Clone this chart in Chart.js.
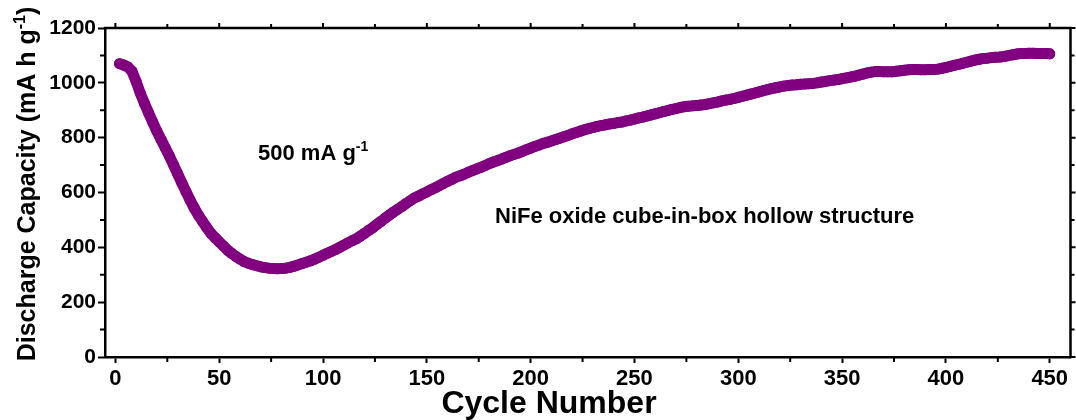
<!DOCTYPE html>
<html>
<head>
<meta charset="utf-8">
<script src="https://cdn.jsdelivr.net/npm/chart.js@4.4.1/dist/chart.umd.min.js"></script>
<style>
  html, body { margin: 0; padding: 0; background: #fff; }
  #wrap { width: 1076px; height: 420px; position: relative; }
</style>
</head>
<body>
<div id="wrap"><canvas id="myChart"></canvas></div>
<script>
// discharge capacity, one value every second cycle starting at cycle 2
var firstCycle = 2;
var cycleStep = 2;
var capacity = [
  1070, 1065, 1058, 1042, 1005, 962, 925, 890, 856, 823,
  793, 763, 733, 701, 668, 635, 603, 572, 543, 517,
  494, 472, 451, 435, 420, 405, 390, 378, 367, 357,
  348, 342, 337, 333, 329, 326, 324, 323, 322, 323,
  324, 327, 331, 336, 341, 346, 351, 357, 364, 371,
  378, 385, 392, 400, 408, 416, 424, 431, 441, 451,
  462, 472, 484, 495, 507, 518, 529, 539, 549, 560,
  570, 580, 587, 595, 602, 610, 617, 625, 633, 641,
  648, 656, 661, 667, 674, 680, 686, 692, 698, 705,
  711, 716, 722, 728, 734, 739, 744, 750, 756, 762,
  768, 773, 779, 783, 788, 793, 798, 803, 808, 814,
  819, 824, 829, 833, 837, 841, 844, 847, 850, 852,
  855, 857, 861, 864, 868, 872, 875, 879, 883, 887,
  891, 895, 899, 903, 906, 910, 913, 915, 916, 917,
  919, 921, 924, 927, 930, 934, 937, 940, 943, 947,
  951, 955, 959, 963, 967, 971, 975, 979, 982, 985,
  988, 990, 992, 993, 995, 996, 997, 998, 1000, 1003,
  1005, 1008, 1010, 1012, 1015, 1018, 1021, 1024, 1028, 1032,
  1036, 1039, 1041, 1041, 1040, 1040, 1040, 1042, 1044, 1046,
  1048, 1049, 1049, 1048, 1048, 1049, 1049, 1050, 1053, 1056,
  1060, 1064, 1067, 1071, 1075, 1079, 1083, 1086, 1089, 1090,
  1092, 1093, 1094, 1096, 1099, 1102, 1105, 1107, 1107, 1108,
  1108, 1107, 1107, 1107, 1106
];

var xRange = [-5, 460];
var yRange = [0, 1200];
var xMajor = 50, xMinor = 25;
var yMajor = 200, yMinor = 100;

var FONT = "'Liberation Sans', Arial, Helvetica, sans-serif";
var INK = '#000';
var PURPLE = '#800080';

var points = capacity.map(function (v, i) {
  return { x: firstCycle + i * cycleStep, y: v };
});

// text drawn with a raised "-1" unit exponent
function drawParts(ctx, parts, x, y, align) {
  var total = 0;
  parts.forEach(function (p) {
    ctx.font = 'bold ' + p.size + 'px ' + FONT;
    p.w = ctx.measureText(p.t).width;
    total += p.w;
  });
  var cx = align === 'center' ? x - total / 2 : x;
  parts.forEach(function (p) {
    ctx.font = 'bold ' + p.size + 'px ' + FONT;
    ctx.fillText(p.t, cx, y - (p.rise || 0));
    cx += p.w;
  });
}

var framePlugin = {
  id: 'frame',
  afterDraw: function (chart) {
    var ctx = chart.ctx;
    var a = chart.chartArea;
    var xs = chart.scales.x;
    var ys = chart.scales.y;
    var v, p, len;

    ctx.save();
    ctx.strokeStyle = INK;
    ctx.lineWidth = 2.5;
    ctx.beginPath();
    ctx.moveTo(a.left - 1.25, a.top);
    ctx.lineTo(a.right, a.top);
    ctx.lineTo(a.right, a.bottom + 1.25);
    ctx.stroke();

    ctx.lineWidth = 2;
    ctx.beginPath();
    for (v = 0; v <= 450; v += xMinor) {
      p = xs.getPixelForValue(v);
      len = v % xMajor === 0 ? 5 : 4;
      if (v % xMajor !== 0) {
        ctx.moveTo(p, a.bottom);
        ctx.lineTo(p, a.bottom + 5);
      }
      ctx.moveTo(p, a.top);
      ctx.lineTo(p, a.top - len);
    }
    for (v = yRange[0]; v <= yRange[1]; v += yMinor) {
      p = ys.getPixelForValue(v);
      len = v % yMajor === 0 ? 5 : 4;
      if (v % yMajor !== 0) {
        ctx.moveTo(a.left, p);
        ctx.lineTo(a.left - 5, p);
      }
      ctx.moveTo(a.right, p);
      ctx.lineTo(a.right + len, p);
    }
    ctx.stroke();

    ctx.fillStyle = INK;
    ctx.textBaseline = 'alphabetic';
    ctx.textAlign = 'left';

    // x axis title
    drawParts(ctx, [{ t: 'Cycle Number', size: 32 }], 549, 413, 'center');

    // y axis title, rotated
    ctx.save();
    ctx.translate(35, 184);
    ctx.rotate(-Math.PI / 2);
    drawParts(ctx, [
      { t: 'Discharge Capacity (mA h g', size: 25 },
      { t: '-1', size: 16, rise: 10 },
      { t: ')', size: 25 }
    ], 0, 0, 'center');
    ctx.restore();

    // labels inside the plot
    drawParts(ctx, [
      { t: '500 mA g', size: 22 },
      { t: '-1', size: 14, rise: 9 }
    ], 258, 160, 'left');
    drawParts(ctx, [{ t: 'NiFe oxide cube-in-box hollow structure', size: 22 }], 495, 223, 'left');

    ctx.restore();
  }
};

var config = {
  type: 'scatter',
  data: {
    datasets: [{
      label: 'Discharge capacity',
      data: points,
      pointRadius: 5.5,
      pointHoverRadius: 5.5,
      pointBackgroundColor: PURPLE,
      pointBorderWidth: 0,
      // densely packed markers read as a solid band
      showLine: true,
      borderColor: PURPLE,
      borderWidth: 11,
      borderCapStyle: 'round',
      borderJoinStyle: 'round',
      tension: 0
    }]
  },
  options: {
    responsive: true,
    maintainAspectRatio: false,
    animation: false,
    events: [],
    layout: { padding: { top: 28, right: 3, left: 0, bottom: 0 } },
    plugins: {
      legend: { display: false },
      tooltip: { enabled: false }
    },
    scales: {
      x: {
        type: 'linear',
        min: xRange[0],
        max: xRange[1],
        border: { color: INK, width: 2.5 },
        grid: { drawOnChartArea: false, drawTicks: true, tickLength: 6, tickColor: INK, tickWidth: 2 },
        ticks: {
          stepSize: xMajor,
          includeBounds: false,
          color: INK,
          padding: 3,
          maxRotation: 0,
          font: { family: FONT, weight: 'bold', size: 22 },
          callback: function (v) { return String(v); }
        },
        afterFit: function (s) { s.height = 63; }
      },
      y: {
        min: yRange[0],
        max: yRange[1],
        border: { color: INK, width: 2.5 },
        grid: { drawOnChartArea: false, drawTicks: true, tickLength: 7, tickColor: INK, tickWidth: 2 },
        ticks: {
          stepSize: yMajor,
          color: INK,
          padding: 2,
          font: { family: FONT, weight: 'bold', size: 21 },
          callback: function (v) { return String(v); }
        },
        afterFit: function (s) { s.width = 105; }
      }
    }
  },
  plugins: [framePlugin]
};

window.onload = function () {
  var ctx = document.getElementById('myChart');
  window.capacityChart = new Chart(ctx, config);
};
</script>
</body>
</html>
